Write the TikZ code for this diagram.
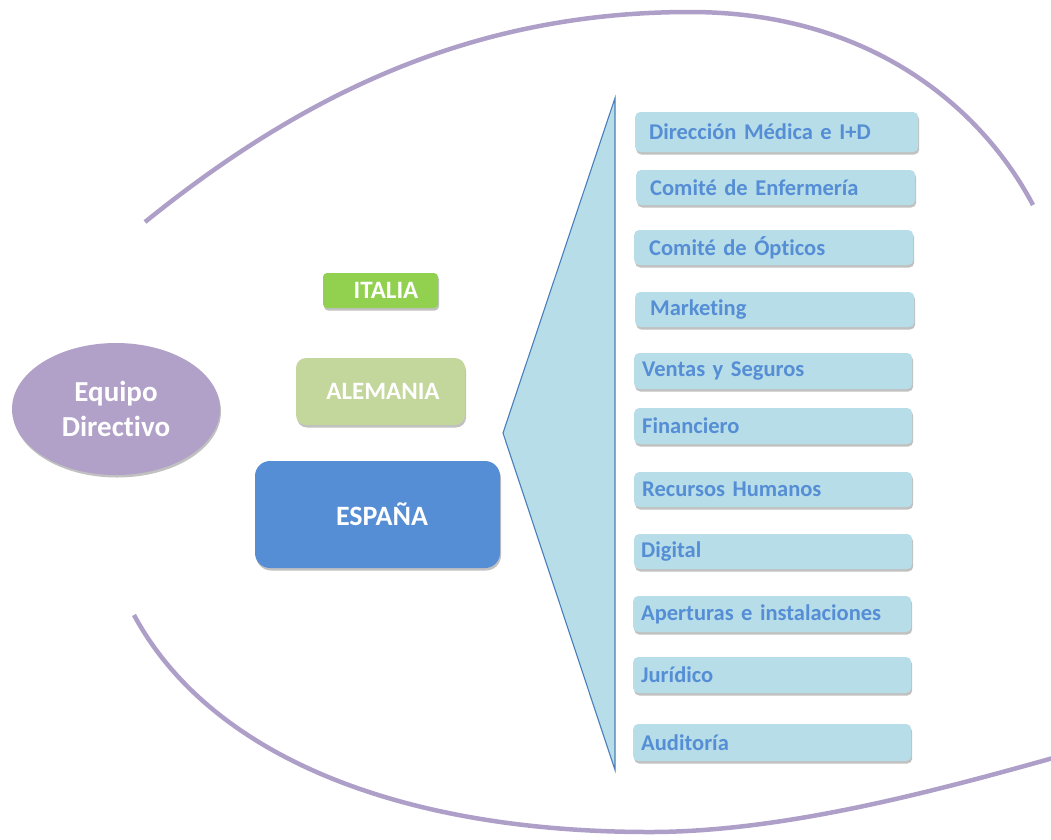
\documentclass[tikz,border=0pt]{standalone}
\usepackage{fontspec}
\setmainfont{Carlito}[Ligatures=NoCommon]
\usetikzlibrary{shapes.geometric,shadows}
\definecolor{arcpurple}{HTML}{AE9FC9}
\definecolor{eqfill}{HTML}{B1A0C7}
\definecolor{itfill}{HTML}{92D050}
\definecolor{defill}{HTML}{C3D69B}
\definecolor{esfill}{HTML}{558ED5}
\definecolor{lightblue}{HTML}{B7DDE8}
\definecolor{funnelline}{HTML}{4A7EBB}
\definecolor{depttext}{HTML}{558ED5}
\tikzset{
  arcline/.style={draw=arcpurple, line width=4.5pt},
  softshadow/.style={drop shadow={shadow xshift=1pt, shadow yshift=-2.5pt, opacity=0.35, fill=black!70}},
  country/.style={rectangle, text=white, font=\bfseries, softshadow, inner sep=0pt},
  dept/.style={rectangle, rounded corners=5pt, fill=lightblue, text=depttext,
    font=\fontsize{22.5}{26}\selectfont\bfseries, align=left, anchor=west, softshadow, inner ysep=0pt},
  funnel/.style={fill=lightblue, draw=funnelline, line width=1.1pt, line join=miter}
}
\begin{document}
\begin{tikzpicture}[x=1pt,y=-1pt]
\useasboundingbox (0,0) rectangle (1051,839);
% outer arcs
\draw[arcline] (145,222) .. controls (301,96) and (470,12) .. (690,12)
  .. controls (870,12) and (981.7,107.6) .. (1033,205);
\draw[arcline] (134,615) .. controls (210,756) and (400,832) .. (650,832)
  .. controls (780,832) and (927.8,793.2) .. (1053,758);
% funnel
\draw[funnel] (615,98) -- (503,433) -- (615,770) -- cycle;
% left part
\node[ellipse, fill=eqfill, minimum width=208pt, minimum height=132pt, softshadow,
  text=white, font=\fontsize{29}{35}\selectfont\bfseries, align=center] (eq) at (116,409) {Equipo\\Directivo};
\node[country, fill=itfill, rounded corners=4pt, minimum width=115pt, minimum height=35pt,
  font=\fontsize{25}{30}\selectfont\bfseries] (it) at (380.5,290.5) {\hspace{11pt}ITALIA};
\node[country, fill=defill, rounded corners=10pt, minimum width=169pt, minimum height=67pt,
  font=\fontsize{25}{30}\selectfont\bfseries] (de) at (380.5,391.5) {\hspace{5pt}ALEMANIA};
\node[country, fill=esfill, rounded corners=15pt, minimum width=245pt, minimum height=107pt,
  font=\fontsize{28}{33}\selectfont\bfseries] (es) at (377.5,514.5) {\hspace{9pt}ESPAÑA};
% departments
\node[dept, inner xsep=14pt, text width=255pt, minimum height=40pt] (d1) at (635,132) {Dirección Médica e I+D};
\node[dept, inner xsep=14pt, text width=251pt, minimum height=35pt] (d2) at (636,187.5) {Comité de Enfermería};
\node[dept, inner xsep=15pt, text width=249pt, minimum height=35pt] (d3) at (634,247.5) {Comité de Ópticos};
\node[dept, inner xsep=15pt, text width=249pt, minimum height=35pt] (d4) at (635,309.5) {Marketing};
\node[dept, inner xsep=8pt, text width=262pt, minimum height=36pt] (d5) at (634,371) {Ventas y Seguros};
\node[dept, inner xsep=8pt, text width=262pt, minimum height=36pt] (d6) at (634,426) {Financiero};
\node[dept, inner xsep=8pt, text width=262pt, minimum height=35pt] (d7) at (634,489.5) {Recursos Humanos};
\node[dept, inner xsep=7pt, text width=264pt, minimum height=35pt] (d8) at (634,551.5) {Digital};
\node[dept, inner xsep=8pt, text width=262pt, minimum height=36pt] (d9) at (633,614) {Aperturas e instalaciones};
\node[dept, inner xsep=8pt, text width=262pt, minimum height=36pt] (d10) at (633,675) {Jurídico};
\node[dept, inner xsep=8pt, text width=262pt, minimum height=37pt] (d11) at (633,742.5) {Auditoría};
\end{tikzpicture}
\end{document}
